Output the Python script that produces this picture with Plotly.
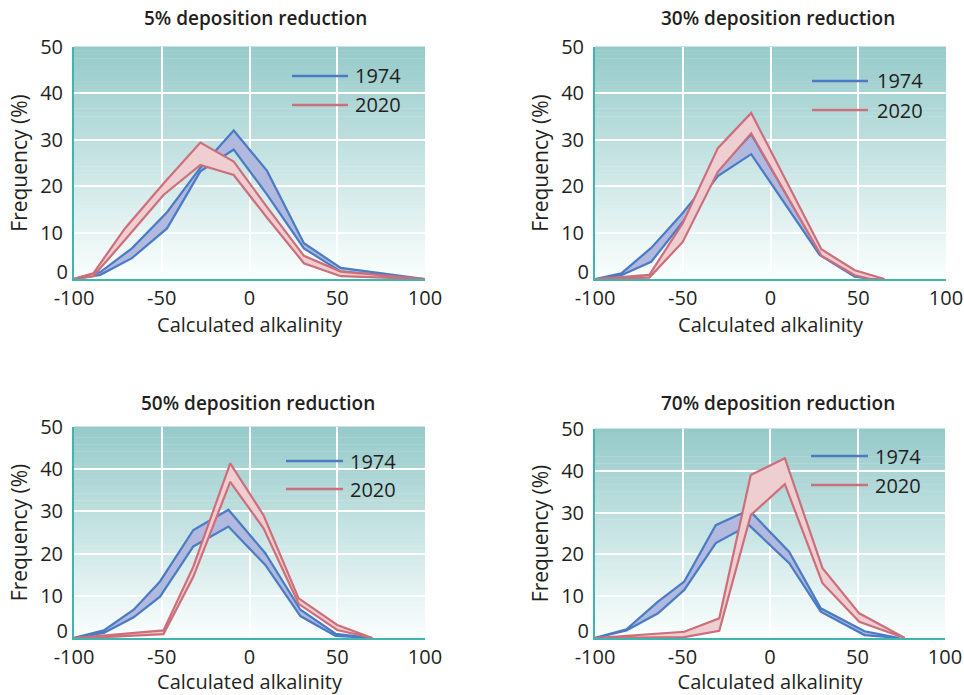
import plotly.graph_objects as go

# ---------------- data ----------------
PANEL_TITLES = ["5% deposition reduction", "30% deposition reduction",
                "50% deposition reduction", "70% deposition reduction"]
LEGEND_LABELS = ["1974", "2020"]
X_TICKS = [-100, -50, 0, 50, 100]
X_TICK_TEXT = ["-100", "-50", "0", "50", "100"]
Y_TICKS = [10, 20, 30, 40, 50]
Y_ZERO_TICK = [0]

# 5% reduction
P5_X1974 = [-100, -85, -67, -47, -28, -9, 10, 31, 52, 100]
P5_HI1974 = [0, 1.5, 6.6, 14.4, 24.0, 32.0, 23.3, 7.7, 2.4, 0]
P5_LO1974 = [0, 0.9, 4.5, 10.9, 23.2, 27.9, 18.2, 6.6, 1.6, 0]
P5_X2020 = [-100, -89, -71, -49, -28, -9, 10, 31, 52, 100]
P5_HI2020 = [0, 1.2, 10.9, 20.6, 29.4, 25.3, 15.5, 5.0, 1.6, 0]
P5_LO2020 = [0, 0.6, 8.4, 18.1, 24.6, 22.4, 13.2, 3.4, 0.6, 0]

# 30% reduction
P30_X1974 = [-100, -85, -68, -51, -30, -11, 28, 48, 58]
P30_HI1974 = [0, 1.2, 6.7, 13.8, 23.5, 31.2, 5.8, 1.0, 0]
P30_LO1974 = [0, 0.8, 3.7, 11.8, 22.2, 26.9, 5.2, 0.5, 0]
P30_X2020 = [-100, -69, -50, -30, -11, 29, 48, 57, 65]
P30_HI2020 = [0, 0.9, 12.0, 28.2, 35.8, 6.4, 1.9, 0.9, 0]
P30_LO2020 = [0, 0.3, 8.0, 23.1, 31.4, 5.0, 0.8, 0, 0]

# 50% reduction
P50_X1974 = [-100, -83, -66, -51, -32, -12, 9, 29, 49, 70]
P50_HI1974 = [0, 1.8, 6.7, 13.4, 25.6, 30.4, 20.1, 6.7, 1.0, 0]
P50_LO1974 = [0, 1.2, 4.9, 9.8, 21.7, 26.4, 17.3, 5.2, 0.5, 0]
P50_X2020 = [-100, -83, -49, -32, -11, 8, 28, 50, 70]
P50_HI2020 = [0, 0.6, 1.8, 16.9, 41.4, 29.1, 9.4, 3.1, 0]
P50_LO2020 = [0, 0.2, 0.9, 14.5, 37.0, 26.0, 8.1, 1.9, 0]

# 70% reduction
P70_X1974 = [-100, -82, -64, -49, -31, -12, 11, 29, 54, 74]
P70_HI1974 = [0, 2.1, 8.7, 13.5, 27.0, 30.6, 20.6, 7.1, 1.6, 0]
P70_LO1974 = [0, 1.8, 5.9, 11.5, 22.7, 27.0, 17.9, 6.3, 0.7, 0]
P70_X2020 = [-100, -49, -29, -11, 8.5, 30, 51, 77]
P70_HI2020 = [0, 1.5, 4.7, 39.0, 43.0, 16.7, 5.9, 0]
P70_LO2020 = [0, 0.2, 1.7, 29.4, 36.8, 13.1, 3.9, 0]

PANELS = [
    (P5_X1974, P5_HI1974, P5_LO1974, P5_X2020, P5_HI2020, P5_LO2020),
    (P30_X1974, P30_HI1974, P30_LO1974, P30_X2020, P30_HI2020, P30_LO2020),
    (P50_X1974, P50_HI1974, P50_LO1974, P50_X2020, P50_HI2020, P50_LO2020),
    (P70_X1974, P70_HI1974, P70_LO1974, P70_X2020, P70_HI2020, P70_LO2020),
]

# ---------------- style ----------------
W, H = 964, 695
FONT = "Open Sans"
TXT = "#231F20"
BLUE_LINE, BLUE_FILL = "#4A7BC4", "#B1B9DF"
PINK_LINE, PINK_FILL = "#CC6F7B", "#EFCED1"
AXIS_COL = "#3FB5AF"
TOP_RGB = (149, 202, 201)
BOT_RGB = (251, 254, 254)
TICK_SIZE = 20
XT_SIZE = 20
YT_SIZE = 21

# plot-area pixel boxes (left, right, top, bottom)
BOXES = [(74, 425, 47, 279), (595, 946, 47, 279),
         (74, 425, 427, 638), (595, 945, 429, 638)]
TITLE_POS = [(255, 18), (778, 18), (258, 403), (778, 403)]
LEG_Y = [(76, 105), (81, 110), (461, 489), (456, 485)]
LEG_X = [(292, 348, 353), (812, 868, 875), (286, 343, 348), (811, 868, 873)]

fig = go.Figure()
layout = dict(width=W, height=H, margin=dict(l=0, r=0, t=0, b=0, autoexpand=False),
              paper_bgcolor="white", plot_bgcolor="white",
              showlegend=False, font=dict(family=FONT, color=TXT))
shapes, annotations = [], []

N_STRIPES = 60
for i, (box, data) in enumerate(zip(BOXES, PANELS)):
    k = "" if i == 0 else str(i + 1)
    kz = str(i + 5)
    xa, ya, yz = "x" + k, "y" + k, "y" + kz
    l, r, t, b = box
    layout["xaxis" + k] = dict(
        domain=[l / W, r / W], range=[-100, 100], anchor=ya, automargin=False,
        tickvals=X_TICKS, ticktext=X_TICK_TEXT, ticks="", ticklabeloverflow="allow",
        showgrid=True, gridcolor="white", gridwidth=2,
        showline=True, linecolor=AXIS_COL, linewidth=2, zeroline=False,
        tickfont=dict(size=TICK_SIZE, color=TXT), ticklabelstandoff=0,
        title=dict(text="Calculated alkalinity", font=dict(size=XT_SIZE, color=TXT), standoff=3),
        fixedrange=True)
    layout["yaxis" + k] = dict(
        domain=[1 - b / H, 1 - t / H], range=[0, 50], anchor=xa, automargin=False,
        tickvals=Y_TICKS, ticks="", showgrid=True, gridcolor="white", gridwidth=2,
        showline=True, linecolor=AXIS_COL, linewidth=2, zeroline=False,
        tickfont=dict(size=TICK_SIZE, color=TXT), ticklabelstandoff=5,
        title=dict(text="Frequency (%)", font=dict(size=YT_SIZE, color=TXT), standoff=7),
        fixedrange=True)
    # the "0" label sits slightly above the baseline in the reference
    layout["yaxis" + kz] = dict(
        domain=[1 - b / H, 1 - t / H], range=[0, 50], anchor=xa, overlaying=ya,
        automargin=False, side="left", tickvals=Y_ZERO_TICK, ticks="",
        showgrid=False, showline=False, zeroline=False, ticklabelshift=-7,
        tickfont=dict(size=TICK_SIZE, color=TXT), ticklabelstandoff=5,
        fixedrange=True)

    # gradient background (stripes below the grid)
    for s in range(N_STRIPES):
        f = (s + 0.5) / N_STRIPES  # 0 bottom -> 1 top
        c = tuple(round(BOT_RGB[j] + (TOP_RGB[j] - BOT_RGB[j]) * f) for j in range(3))
        shapes.append(dict(type="rect", xref=xa + " domain", yref=ya + " domain",
                           x0=0, x1=1, y0=s / N_STRIPES, y1=(s + 1) / N_STRIPES + 0.002,
                           fillcolor="rgb(%d,%d,%d)" % c, line=dict(width=0),
                           layer="below"))

    x74, hi74, lo74, x20, hi20, lo20 = data
    for xs, hi, lo, lc, fc, name in [(x74, hi74, lo74, BLUE_LINE, BLUE_FILL, LEGEND_LABELS[0]),
                                     (x20, hi20, lo20, PINK_LINE, PINK_FILL, LEGEND_LABELS[1])]:
        fig.add_trace(go.Scatter(
            x=list(xs) + list(xs)[::-1], y=list(hi) + list(lo)[::-1],
            mode="lines", fill="toself", fillcolor=fc,
            line=dict(color=lc, width=2.2), name=name,
            xaxis=xa, yaxis=ya, hoverinfo="skip"))
    # empty trace so the overlaying "0"-label axis gets drawn
    fig.add_trace(go.Scatter(x=[None], y=[None], mode="lines", xaxis=xa, yaxis=yz,
                             hoverinfo="skip", showlegend=False))

    # legend (line samples + labels)
    lx0, lx1, tx = LEG_X[i]
    for j, (col, lab) in enumerate([(BLUE_LINE, LEGEND_LABELS[0]), (PINK_LINE, LEGEND_LABELS[1])]):
        yy = 1 - (LEG_Y[i][j] - t) / (b - t)
        shapes.append(dict(type="line", xref=xa + " domain", yref=ya + " domain",
                           x0=(lx0 - l) / (r - l), x1=(lx1 - l) / (r - l), y0=yy, y1=yy,
                           line=dict(color=col, width=2.6)))
        annotations.append(dict(text=lab, xref=xa + " domain", yref=ya + " domain",
                                x=(tx - l) / (r - l), y=yy, xanchor="left", yanchor="middle",
                                showarrow=False, font=dict(size=TICK_SIZE, color=TXT)))

    # panel title
    px, py = TITLE_POS[i]
    annotations.append(dict(text=PANEL_TITLES[i], xref="paper", yref="paper",
                            x=px / W, y=1 - py / H, xanchor="center", yanchor="middle",
                            showarrow=False,
                            font=dict(size=19, color=TXT, weight=600)))

layout["shapes"] = shapes
layout["annotations"] = annotations
fig.update_layout(**layout)
fig.write_html("out.html", config={"displayModeBar": False},
               post_script="document.body.style.margin='0';document.body.style.padding='0';")
